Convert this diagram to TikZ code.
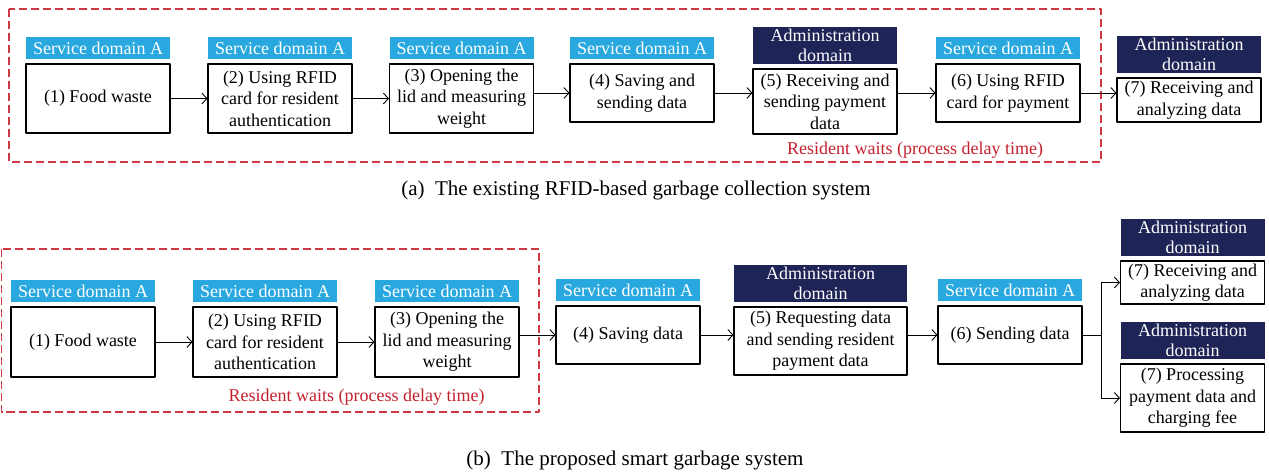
\documentclass[tikz,border=0pt]{standalone}
\usepackage{fontspec}
\setmainfont{Liberation Serif}
\usetikzlibrary{positioning,arrows.meta}
\definecolor{svcblue}{RGB}{41,168,224}
\definecolor{admnavy}{RGB}{31,36,86}
\definecolor{waitred}{RGB}{206,56,66}
\definecolor{waittxt}{RGB}{196,32,46}

\begin{document}
\begin{tikzpicture}[line cap=round,line join=round,>={Straight Barb[length=5pt,width=11pt]},x=1pt,y=-1pt,
		stepbox/.style={draw,line width=1.1pt,align=center,inner sep=0pt,minimum width=144pt,font=\fontsize{18}{21.5}\selectfont},
		svclabel/.style={fill=svcblue,text=white,inner sep=0pt,minimum width=144pt,minimum height=22.5pt,font=\fontsize{18}{20}\selectfont},
		admlabel/.style={fill=admnavy,text=white,align=center,inner sep=0pt,minimum width=#1,minimum height=37pt,font=\fontsize{18}{20}\selectfont},
		admlabel/.default=144pt,
		waitframe/.style={draw=waitred,line width=1.2pt,dash pattern=on 8pt off 4pt,line cap=butt},
		waittext/.style={text=waittxt,font=\fontsize{18}{21.5}\selectfont},
		caption/.style={font=\fontsize{21}{24}\selectfont},
		flow/.style={->,line width=0.9pt}]
		\useasboundingbox (0,0) rectangle (1269,474);
		% (a) existing system
		\draw [waitframe] (9,9) rectangle (1101,162);
		\node [stepbox,minimum height=69pt] (t1) at (98,98.5) {(1) Food waste};
		\node [stepbox,minimum height=69pt] (t2) at (280,98.5) {(2) Using RFID\\card for resident\\authentication};
		\node [stepbox,minimum height=69pt] (t3) at (461.5,98.5) {(3) Opening the\\lid and measuring\\weight};
		\node [stepbox,minimum height=58pt] (t4) at (642,93) {(4) Saving and\\sending data};
		\node [stepbox,minimum height=65pt] (t5) at (825,101.5) {(5) Receiving and\\sending payment\\data};
		\node [stepbox,minimum height=58pt] (t6) at (1008,93) {(6) Using RFID\\card for payment};
		\node [stepbox,minimum height=44pt] (t7) at (1189,100) {(7) Receiving and\\analyzing data};
		\node [svclabel,above=4pt of t1] (lt1) {Service domain A};
		\node [svclabel,above=4pt of t2] (lt2) {Service domain A};
		\node [svclabel,above=4pt of t3] (lt3) {Service domain A};
		\node [svclabel,above=4pt of t4] (lt4) {Service domain A};
		\node [admlabel,above=4pt of t5] (lt5) {Administration\\domain};
		\node [svclabel,above=4pt of t6] (lt6) {Service domain A};
		\node [admlabel,above=4pt of t7] (lt7) {Administration\\domain};
		\draw [flow] (t1) -- (t2);
		\draw [flow] (t2) -- (t3);
		\draw [flow] (t3.east |- t4) -- (t4);
		\draw [flow] (t4) -- (t4 -| t5.west);
		\draw [flow] (t5.east |- t6) -- (t6);
		\draw [flow] (t6) -- (t6 -| t7.west);
		\node [waittext] (waita) at (915,150) {Resident waits (process delay time)};
		\node [caption] (capa) at (636,190) {(a)\ \ The existing RFID-based garbage collection system};
		% (b) proposed system
		\draw [waitframe] (1.5,249) rectangle (539,412);
		\node [stepbox,minimum height=70pt] (b1) at (83,342) {(1) Food waste};
		\node [stepbox,minimum height=70pt] (b2) at (265,342) {(2) Using RFID\\card for resident\\authentication};
		\node [stepbox,minimum height=70pt] (b3) at (447,342) {(3) Opening the\\lid and measuring\\weight};
		\node [stepbox,minimum height=58pt] (b4) at (628,335) {(4) Saving data};
		\node [stepbox,minimum height=68pt,minimum width=173pt] (b5) at (820.5,341) {(5) Requesting data\\and sending resident\\payment data};
		\node [stepbox,minimum height=58pt] (b6) at (1010,335) {(6) Sending data};
		\node [stepbox,minimum height=43pt] (b7a) at (1192.5,282.5) {(7) Receiving and\\analyzing data};
		\node [stepbox,minimum height=68pt] (b7b) at (1192.5,398) {(7) Processing\\payment data and\\charging fee};
		\node [svclabel,above=4pt of b1] (lb1) {Service domain A};
		\node [svclabel,above=4pt of b2] (lb2) {Service domain A};
		\node [svclabel,above=4pt of b3] (lb3) {Service domain A};
		\node [svclabel,above=4pt of b4] (lb4) {Service domain A};
		\node [admlabel=173pt,above=4pt of b5] (lb5) {Administration\\domain};
		\node [svclabel,above=4pt of b6] (lb6) {Service domain A};
		\node [admlabel,above=4pt of b7a] (lb7a) {Administration\\domain};
		\node [admlabel,above=4pt of b7b] (lb7b) {Administration\\domain};
		\coordinate (fork) at (1101,335);
		\draw [flow] (b1) -- (b2);
		\draw [flow] (b2) -- (b3);
		\draw [flow] (b3.east |- b4) -- (b4);
		\draw [flow] (b4) -- (b4 -| b5.west);
		\draw [flow] (b5.east |- b6) -- (b6);
		\draw [line width=0.9pt] (b6) -- (fork);
		\draw [flow] (fork) |- (b7a);
		\draw [flow] (fork) |- (b7b);
		\node [waittext] (waitb) at (356.5,397) {Resident waits (process delay time)};
		\node [caption] (capb) at (635,460) {(b)\ \ The proposed smart garbage system};
	\end{tikzpicture}
\end{document}
